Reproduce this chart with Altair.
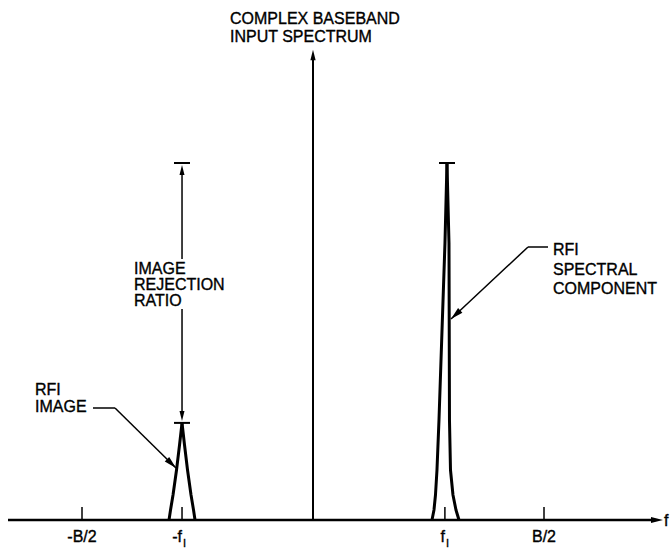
import math
import altair as alt
import pandas as pd

# ---------------- data ----------------
# frequency in units of B/2, amplitude relative to the RFI spectral component
tick_freqs = [-1.0, -0.567, 0.571, 1.0]
tick_names = ["-B/2", "-f", "f", "B/2"]
tick_subs = ["", "I", "I", ""]

baseband_amp = 1.317          # tip of the baseband spectrum arrow
rfi_freq = 0.580
rfi_amp = 1.0
image_freq = -0.567
image_amp = 0.272

# outline of the RFI spectral component (height, offset of each side)
rfi_heights = [1.0, 0.776, 0.280, 0.140, 0.070, 0.028, 0.0]
rfi_left = [0.0, -0.0087, -0.0346, -0.0433, -0.0498, -0.0563, -0.0649]
rfi_right = [0.0, 0.0087, 0.0108, 0.0152, 0.0260, 0.0390, 0.0520]

# outline of the RFI image (height, half width)
image_heights = [0.272, 0.210, 0.140, 0.070, 0.028, 0.0]
image_half = [0.0, 0.0108, 0.0238, 0.0390, 0.0498, 0.0563]

# ---------------- layout ----------------
W, H = 671, 551
X0_PX, Y0_PX = 313, 520
PX_X, PX_Y = 231, 357
XDOM = [(0 - X0_PX) / PX_X, (W - X0_PX) / PX_X]
YDOM = [(Y0_PX - H) / PX_Y, Y0_PX / PX_Y]


def fx(px):
    return (px - X0_PX) / PX_X


def fy(py):
    return (Y0_PX - py) / PX_Y


xs = alt.Scale(domain=XDOM, nice=False, zero=False)
ys = alt.Scale(domain=YDOM, nice=False, zero=False)
FONT = "Liberation Sans"
ARROW = "M0,0 L0.5,2 L-0.5,2 Z"
TXT = dict(font=FONT, color="black", stroke="black", strokeWidth=0.35)


def X(f="x"):
    return alt.X(f"{f}:Q", scale=xs, axis=None)


def Y(f="y"):
    return alt.Y(f"{f}:Q", scale=ys, axis=None)


def rules(rows, width=1.5):
    df = pd.DataFrame(rows)
    enc = dict(x=X("x"), y=Y("y"))
    if "x2" in df:
        enc["x2"] = alt.X2("x2:Q")
    if "y2" in df:
        enc["y2"] = alt.Y2("y2:Q")
    return alt.Chart(df).mark_rule(color="black", strokeWidth=width).encode(**enc)


def angle(sx, sy, tx, ty):
    return math.degrees(math.atan2(tx - sx, -(ty - sy))) % 360


# frequency axis
axis_line = rules([dict(x=fx(8), x2=fx(655), y=0.0)], width=2.5)
tick_df = pd.DataFrame(dict(x=tick_freqs, y=[0.0] * 4, y2=[13 / PX_Y] * 4))
ticks = alt.Chart(tick_df).mark_rule(color="black", strokeWidth=1.5).encode(
    x=X(), y=Y(), y2="y2:Q")

lab_df = pd.DataFrame(dict(x=tick_freqs, y=[fy(542)] * 4, t=tick_names, s=tick_subs))
lab_b = alt.Chart(lab_df[lab_df.s == ""]).mark_text(
    fontSize=16, align="center", baseline="alphabetic", **TXT
).encode(x=X(), y=Y(), text="t:N")
lab_f = alt.Chart(lab_df[lab_df.s != ""]).mark_text(
    fontSize=16, align="right", baseline="alphabetic", **TXT
).encode(x=X(), y=Y(), text="t:N")
lab_s = alt.Chart(lab_df[lab_df.s != ""]).mark_text(
    fontSize=11, align="left", baseline="alphabetic", dx=1, dy=5, **TXT
).encode(x=X(), y=Y(), text="s:N")
f_label = alt.Chart(pd.DataFrame(dict(x=[fx(664)], y=[fy(526)], t=["f"]))).mark_text(
    fontSize=16, align="left", baseline="alphabetic", **TXT
).encode(x=X(), y=Y(), text="t:N")

# baseband spectrum arrow
center = rules([dict(x=0.0, y=0.0, y2=baseband_amp - 8 / PX_Y)], width=2)

# peaks
rows = []
for i, (h, o) in enumerate(zip(rfi_heights, rfi_left)):
    rows.append(dict(x=rfi_freq + o, y=h, side="rl", i=i))
for i, (h, o) in enumerate(zip(rfi_heights, rfi_right)):
    rows.append(dict(x=rfi_freq + o, y=h, side="rr", i=i))
for i, (h, o) in enumerate(zip(image_heights, image_half)):
    rows.append(dict(x=image_freq - o, y=h, side="il", i=i))
    rows.append(dict(x=image_freq + o, y=h, side="ir", i=i))
peaks = alt.Chart(pd.DataFrame(rows)).mark_line(
    color="black", strokeWidth=3, strokeJoin="round"
).encode(x=X(), y=Y(), detail="side:N", order="i:Q")

cap = 8 / PX_X
caps = rules([
    dict(x=rfi_freq - cap, x2=rfi_freq + cap, y=rfi_amp),
    dict(x=image_freq - cap, x2=image_freq + cap, y=rfi_amp),
    dict(x=image_freq - cap, x2=image_freq + cap, y=image_amp),
], width=2)

# image rejection ratio double arrow (broken around its label)
ratio = rules([
    dict(x=image_freq, y=rfi_amp - 10 / PX_Y, y2=fy(259)),
    dict(x=image_freq, y=fy(309), y2=image_amp + 10 / PX_Y),
], width=1.5)

# leaders
leaders = rules([
    dict(x=fx(93), x2=fx(115), y=fy(408), y2=fy(408)),
    dict(x=fx(115), x2=fx(176), y=fy(408), y2=fy(468)),
    dict(x=fx(528), x2=fx(548), y=fy(247), y2=fy(247)),
    dict(x=fx(528), x2=fx(451), y=fy(247), y2=fy(319)),
], width=1.5)

heads = pd.DataFrame([
    dict(x=fx(663), y=0.0, a=90, s=144),
    dict(x=0.0, y=baseband_amp, a=0, s=110),
    dict(x=image_freq, y=rfi_amp - 2 / PX_Y, a=0, s=100),
    dict(x=image_freq, y=image_amp + 2 / PX_Y, a=180, s=100),
    dict(x=fx(176), y=fy(468), a=angle(115, 408, 176, 468), s=160),
    dict(x=fx(451), y=fy(319), a=angle(528, 247, 451, 319), s=160),
])
arrowheads = alt.Chart(heads).mark_point(
    shape=ARROW, filled=True, color="black", opacity=1, strokeWidth=0
).encode(x=X(), y=Y(), angle=alt.Angle("a:Q", scale=None), size=alt.Size("s:Q", scale=None))


def label(px, py, text, lh):
    return alt.Chart(pd.DataFrame(dict(x=[fx(px)], y=[fy(py)], t=[text]))).mark_text(
        fontSize=16, align="left", baseline="alphabetic",
        lineBreak="\n", lineHeight=lh, **TXT
    ).encode(x=X(), y=Y(), text="t:N")


texts = [
    label(230, 24, "COMPLEX BASEBAND\nINPUT SPECTRUM", 18),
    label(134, 274, "IMAGE\nREJECTION\nRATIO", 16),
    label(35, 395, "RFI\nIMAGE", 17),
    label(553, 255, "RFI\nSPECTRAL\nCOMPONENT", 19.5),
]

chart = alt.layer(
    axis_line, ticks, center, peaks, caps, ratio, leaders, arrowheads,
    lab_b, lab_f, lab_s, f_label, *texts
).properties(
    width=W, height=H, padding=0, autosize=alt.AutoSizeParams(type="none"),
    background="white"
).configure_view(stroke=None)

chart.save("out.html", embed_options={"renderer": "svg", "actions": False})
